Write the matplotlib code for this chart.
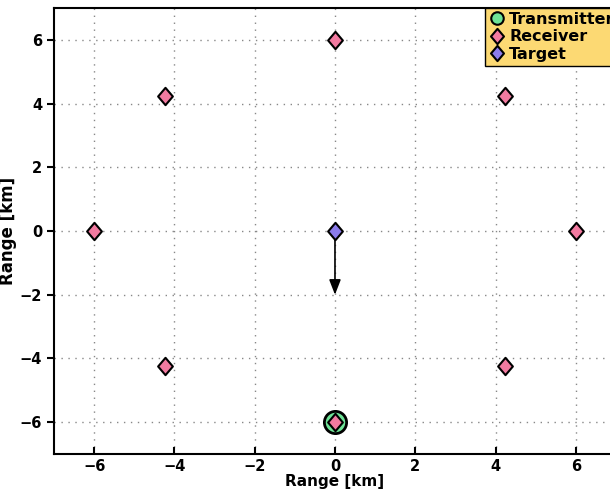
import numpy as np
import matplotlib
matplotlib.use("Agg")
import matplotlib.pyplot as plt
from matplotlib.path import Path
from matplotlib.lines import Line2D

# receivers on a 6 km circle
rx_x = [6.0, 4.24, 0.0, -4.24, -6.0, -4.24, 0.0, 4.24]
rx_y = [0.0, 4.24, 6.0, 4.24, 0.0, -4.24, -6.0, -4.24]
tx_x = [0.0]
tx_y = [-6.0]
tgt_x = [0.0]
tgt_y = [0.0]
tgt_vel = [0.0, -2.0]
ticks = [-6, -4, -2, 0, 2, 4, 6]

# fat diamond, like the MATLAB one
diamond = Path([(0, 1), (0.85, 0), (0, -1), (-0.85, 0), (0, 1)],
               [Path.MOVETO, Path.LINETO, Path.LINETO, Path.LINETO, Path.CLOSEPOLY])

plt.rcParams['font.family'] = 'DejaVu Sans'
plt.rcParams['font.weight'] = 'bold'

fig = plt.figure(figsize=(6.1, 4.97), dpi=100)
ax = fig.add_axes([0.0885, 0.0865, 0.9213, 0.8975])

ax.plot(tx_x, tx_y, 'o', ms=16, mfc='#6fe397', mec='black', mew=2,
        zorder=3)
ax.plot(rx_x, rx_y, marker=diamond, ls='none', ms=12.5, mfc='#f27aa0',
        mec='black', mew=1.5, zorder=4)
ax.plot(tgt_x, tgt_y, marker=diamond, ls='none', ms=12.5, mfc='#8c7cec',
        mec='black', mew=1.5, zorder=4)
ax.annotate('', xy=(tgt_x[0] + tgt_vel[0], tgt_y[0] + tgt_vel[1]),
            xytext=(tgt_x[0], tgt_y[0]),
            arrowprops=dict(arrowstyle='-|>,head_length=0.9,head_width=0.35',
                            color='black', lw=1.2, shrinkA=0, shrinkB=0),
            zorder=2)

ax.set_xlim(-7, 7)
ax.set_ylim(-7, 7)
ax.set_xticks(ticks)
ax.set_yticks(ticks)
ax.grid(True, color='#888888', linestyle=(0, (1, 4)), linewidth=1.0)
ax.tick_params(axis='y', direction='out', length=5, width=1.5, labelsize=10.5)
ax.tick_params(axis='x', direction='in', length=5, width=1.5, labelsize=10.5)
for s in ax.spines.values():
    s.set_linewidth(1.5)
ax.set_xlabel('Range [km]', fontsize=11, fontweight='bold', labelpad=0)
ax.set_ylabel('Range [km]', fontsize=12, fontweight='bold')
ax.yaxis.set_label_coords(-0.066, 0.5)

handles = [
    Line2D([], [], ls='none', marker='o', ms=9, mfc='#6fe397', mec='black', mew=1.5),
    Line2D([], [], ls='none', marker=diamond, ms=11, mfc='#f27aa0', mec='black', mew=1.5),
    Line2D([], [], ls='none', marker=diamond, ms=11, mfc='#8c7cec', mec='black', mew=1.5),
]
leg = ax.legend(handles, ['Transmitter', 'Receiver', 'Target'],
                loc='upper right', bbox_to_anchor=(1.005, 1.0), fontsize=11.5,
                frameon=True, fancybox=False, facecolor='#fcd973',
                edgecolor='black', framealpha=1, handletextpad=0.3,
                borderpad=0.25, labelspacing=0.15, handlelength=1.0,
                borderaxespad=0.0)
leg.get_frame().set_linewidth(1.0)
for t in leg.get_texts():
    t.set_fontweight('bold')

fig.savefig('out.png', dpi=100)
